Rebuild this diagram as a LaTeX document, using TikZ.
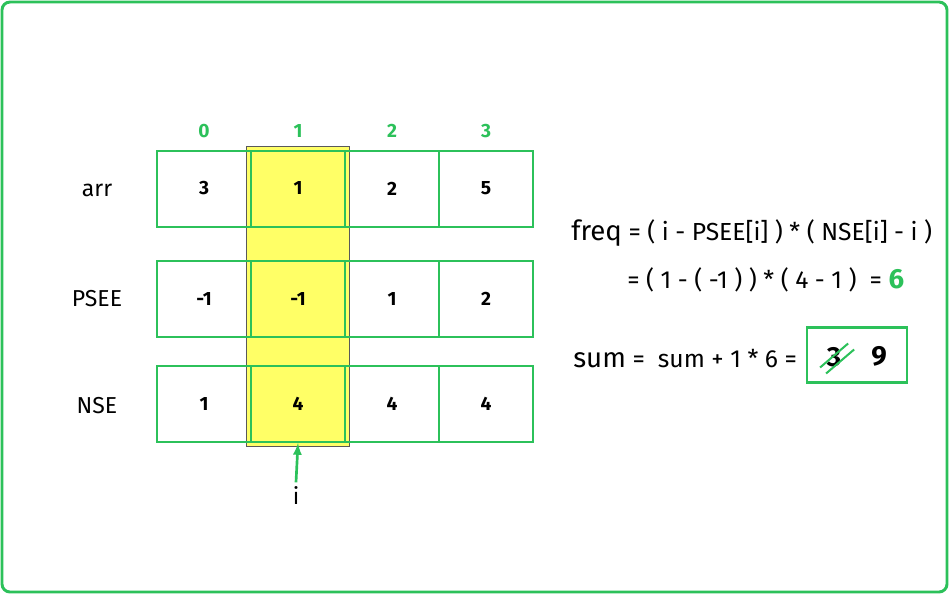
\documentclass[tikz,border=0pt]{standalone}
\usepackage{fontspec}
\setmainfont{Fira Sans}
\usetikzlibrary{positioning}
\definecolor{gfg}{HTML}{2CC15A}
\definecolor{hl}{HTML}{FFFF66}
\tikzstyle{cell}=[draw=gfg, line width=1.5pt, minimum width=70.5pt, minimum height=57pt, inner sep=0, font=\bfseries\Large]
\tikzstyle{rowlabel}=[font=\LARGE]
\tikzstyle{idx}=[text=gfg, font=\bfseries\Large]
\tikzstyle{formula}=[anchor=west, inner sep=0, font=\fontsize{18.5}{20}\selectfont]
\begin{document}
\begin{tikzpicture}[x=0.75pt, y=-0.75pt]
        % frame
        \useasboundingbox (0,0) rectangle (949,594);
        \draw[gfg, line width=2.2pt, rounded corners=6pt, fill=white] (2,2) rectangle (947,592);
        % highlighted column
        \fill[hl, draw=gray!70!black, line width=0.6pt] (246,146) rectangle (349,446);
        % cells
        \foreach \v [count=\c from 0] in {3,1,2,5} {
            \node[cell] (arr\c) at (204+94*\c, 188.5) {\v};
            \node[idx] (idx\c) at (204+94*\c, 131) {\c};
        }
        \foreach \v [count=\c from 0] in {-1,-1,1,2} {
            \node[cell] (psee\c) at (204+94*\c, 299) {\v};
        }
        \foreach \v [count=\c from 0] in {1,4,4,4} {
            \node[cell] (nse\c) at (204+94*\c, 404) {\v};
        }
        \node[rowlabel] (larr) at (97, 190) {arr};
        \node[rowlabel] (lpsee) at (97, 299) {PSEE};
        \node[rowlabel] (lnse) at (97, 406) {NSE};
        % pointer
        \node[font=\LARGE] (iptr) at (296, 496) {i};
        \draw[gfg, line width=2pt, -latex] (iptr.north) -- (nse1.south);
        % formulas
        \node[formula] (freq) at (571, 233) {{\huge freq} = ( i - PSEE[i] ) * ( NSE[i] - i )};
        \node[formula] (freqv) at (627, 280) {= ( 1 - ( -1 ) ) * ( 4 - 1 )\ \ = \textcolor{gfg}{\huge\bfseries 6}};
        \node[formula] (sum) at (573, 359) {{\huge sum} = \ sum + 1 * 6 =};
        \node[draw=gfg, line width=2pt, minimum width=75pt, minimum height=41pt] (res) at (857, 355) {};
        \node[font=\bfseries\huge] (old) at (834, 357) {3};
        \node[font=\bfseries\huge] (new) at (879, 356) {9};
        \draw[gfg, line width=1.5pt] (old.south west) ++(-2,-4) -- ++(28,-24);
        \draw[gfg, line width=1.5pt] (old.south west) ++(4,2) -- ++(28,-24);
\end{tikzpicture}
\end{document}
